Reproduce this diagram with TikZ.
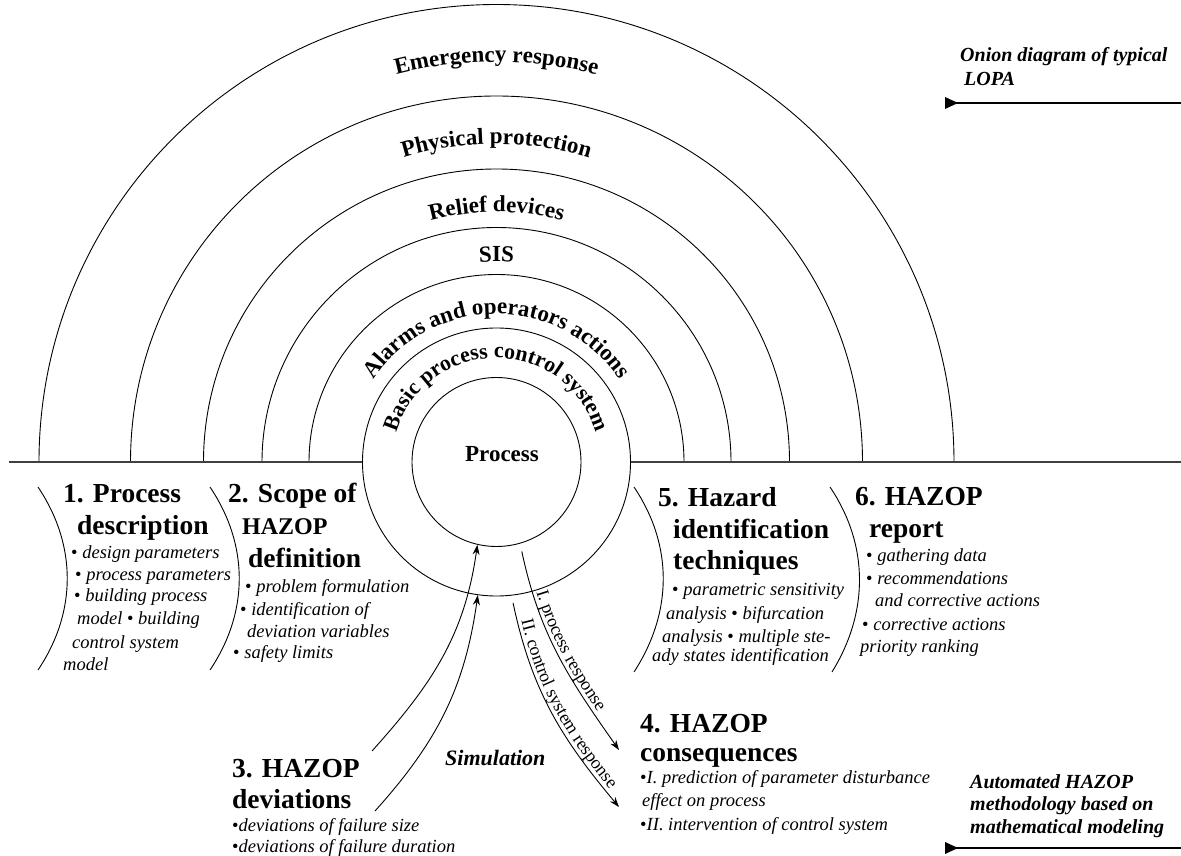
\documentclass[tikz,border=0pt]{standalone}
\usepackage{fontspec}
\setmainfont{Liberation Serif}
\usetikzlibrary{decorations.text,arrows.meta}

\newcommand\hfnt{\fontsize{27.5}{27.5}\selectfont\bfseries}
\newcommand\hsfnt{\fontsize{24}{24}\selectfont\bfseries}
\newcommand\ifnt{\fontsize{18.5}{18.5}\selectfont\itshape}
\newcommand\cfnt{\fontsize{23}{23}\selectfont\bfseries}
\newcommand\bfnt{\fontsize{22}{22}\selectfont\bfseries}
\newcommand\rfnt{\fontsize{18}{18}\selectfont}
\newcommand\bifnt{\fontsize{20}{20}\selectfont\bfseries\itshape}
\newcommand\simfnt{\fontsize{22}{22}\selectfont\bfseries\itshape}

\tikzset{
  head/.style={anchor=base west, inner sep=0pt, font=\hfnt},
  item/.style={anchor=base west, inner sep=0pt, font=\ifnt},
  note/.style={anchor=base west, inner sep=0pt, font=\bifnt},
  ring/.style={draw, line width=0.9pt},
  sepline/.style={line width=0.9pt},
  arr/.style={line width=0.9pt, -{Stealth[length=10pt,width=7pt]}},
  baseline/.style={line width=1.3pt, black!75},
  pointer/.style={line width=2pt},
}

\begin{document}
\begin{tikzpicture}[x=1pt,y=1pt]
\useasboundingbox (0,0) rectangle (1181,855);

\coordinate (C) at (496.5,393);

% onion layers
\foreach \r in {457.5,366,293,234.5,187.5}
  \draw[sepline] (C) ++(180:\r pt) arc[start angle=180,end angle=0,radius=\r pt];
\node[ring, circle, minimum size=268pt, inner sep=0pt] (bpcs) at (C) {};
\node[ring, circle, minimum size=169pt, inner sep=0pt] (proc) at (C) {};

% base line
\coordinate (bl) at (9,393);
\coordinate (br) at (1181,393);
\draw[baseline] (bl) -- (bpcs.west);
\draw[baseline] (bpcs.east) -- (br);

% curved layer labels
\path[decorate, decoration={text along path, text={|\cfnt|Emergency response}, text align=center}]
  (C) ++(180:400pt) arc[start angle=180,end angle=0,radius=400pt];
\path[decorate, decoration={text along path, text={|\cfnt|Physical protection}, text align=center}]
  (C) ++(180:318pt) arc[start angle=180,end angle=0,radius=318pt];
\path[decorate, decoration={text along path, text={|\cfnt|Relief devices}, text align=center}]
  (C) ++(180:250pt) arc[start angle=180,end angle=0,radius=250pt];
\path[decorate, decoration={text along path, text={|\cfnt|SIS}, text align=center}]
  (C) ++(180:200pt) arc[start angle=180,end angle=0,radius=200pt];
\path[decorate, decoration={text along path, text={|\cfnt|Alarms and operators actions}, text align=center}]
  (C) ++(180:148pt) arc[start angle=180,end angle=0,radius=148pt];
\path[decorate, decoration={text along path, text={|\bfnt|Basic process control system}, text align=center}]
  (C) ++(180:104pt) arc[start angle=180,end angle=0,radius=104pt];

\node[anchor=base, inner sep=0pt, font=\cfnt] (ptext) at (502,393) {Process};

% separators of the lower section
\draw[sepline] (38,368) .. controls (77,310) and (77,243) .. (38,185);
\draw[sepline] (210,368) .. controls (249,310) and (249,243) .. (210,185);
\draw[sepline] (634,368) .. controls (673,310) and (673,243) .. (634,183);
\draw[sepline] (830,368) .. controls (869,310) and (869,243) .. (832,183);

% 1. Process description
\node[head] (h1a) at (63,352) {1. Process};
\node[head] (h1b) at (77,320) {description};
\node[item] (i1a) at (71,296) {\upshape•\ \itshape design parameters};
\node[item] (i1b) at (75,274) {\upshape•\ \itshape process parameters};
\node[item] (i1c) at (74,253) {\upshape•\ \itshape building process};
\node[item] (i1d) at (77,231) {model \upshape•\itshape\ building};
\node[item] (i1e) at (72,207) {control system};
\node[item] (i1f) at (63,185) {model};

% 2. Scope of HAZOP definition
\node[head] (h2a) at (228,352) {2. Scope of};
\node[head, font=\hsfnt] (h2b) at (242,320) {HAZOP};
\node[head] (h2c) at (248,287) {definition};
\node[item] (i2a) at (245,262) {\upshape•\ \itshape problem formulation};
\node[item] (i2b) at (240,240) {\upshape•\ \itshape identification of};
\node[item] (i2c) at (247,218) {deviation variables};
\node[item] (i2d) at (233,197) {\upshape•\ \itshape safety limits};

% 5. Hazard identification techniques
\node[head] (h5a) at (658,348) {5. Hazard};
\node[head] (h5b) at (673,316) {identification};
\node[head] (h5c) at (673,285) {techniques};
\node[item] (i5a) at (672,259) {\upshape•\ \itshape parametric sensitivity};
\node[item] (i5b) at (666,236) {analysis \upshape•\itshape\ bifurcation};
\node[item] (i5c) at (662,213) {analysis \upshape•\itshape\ multiple ste-};
\node[item] (i5d) at (652,194) {ady states identification};

% 6. HAZOP report
\node[head] (h6a) at (855,349) {6. HAZOP};
\node[head] (h6b) at (869,317) {report};
\node[item] (i6a) at (866,293) {\upshape•\ \itshape gathering data};
\node[item] (i6b) at (866,270) {\upshape•\ \itshape recommendations};
\node[item] (i6c) at (875,248) {and corrective actions};
\node[item] (i6d) at (862,225) {\upshape•\ \itshape corrective actions};
\node[item] (i6e) at (860,203) {priority ranking};

% 3. HAZOP deviations
\node[head] (h3a) at (232,78) {3. HAZOP};
\node[head] (h3b) at (232,47) {deviations};
\node[item] (i3a) at (232,24) {\upshape•\itshape deviations of failure size};
\node[item] (i3b) at (232,3) {\upshape•\itshape deviations of failure duration};

\node[anchor=base west, inner sep=0pt, font=\simfnt] (sim) at (445,90) {Simulation};

% 4. HAZOP consequences
\node[head] (h4a) at (640,123) {4. HAZOP};
\node[head] (h4b) at (640,94) {consequences};
\node[item] (i4a) at (640,72) {\upshape•\itshape I. prediction of parameter disturbance};
\node[item] (i4b) at (642,49) {effect on process};
\node[item] (i4c) at (640,25) {\upshape•\itshape II. intervention of control system};

% notes on the right
\node[note] (n1a) at (960,793) {Onion diagram of typical};
\node[note] (n1b) at (964,769) {LOPA};
\coordinate (p1s) at (945,752);
\coordinate (p1e) at (1181,752);
\fill (945,758) -- (958,752) -- (945,746) -- cycle;
\draw[pointer] (p1s) -- (p1e);

\node[note] (n2a) at (970,67) {Automated HAZOP};
\node[note] (n2b) at (970,45) {methodology based on};
\node[note] (n2c) at (970,22) {mathematical modeling};
\coordinate (p2s) at (945,7);
\coordinate (p2e) at (1181,7);
\fill (945,13) -- (958,7) -- (945,1) -- cycle;
\draw[pointer] (p2s) -- (p2e);

% simulation arrows (deviations -> process)
\coordinate (aAs) at (372,104);
\coordinate (aBs) at (375,44);
\draw[arr] (aAs) to[out=48,in=-98] (proc.257.6);
\draw[arr] (aBs) to[out=48,in=-98] (bpcs.262.6);

% responses (process -> consequences)
\path (C) ++(285.8:93pt) coordinate (l1s);
\path (C) ++(276.7:142pt) coordinate (l2s);
\coordinate (l1e) at (619,105);
\coordinate (l2e) at (619,48);
\draw[arr, postaction={decorate, decoration={text along path, text={|\rfnt|I. process response}, text align=center, raise=4pt}}]
  (l1s) to[out=-78,in=125] (l1e);
\draw[arr, postaction={decorate, decoration={text along path, text={|\rfnt|II. control system response}, text align=center, raise=4pt}}]
  (l2s) to[out=-78,in=130] (l2e);

\end{tikzpicture}
\end{document}
